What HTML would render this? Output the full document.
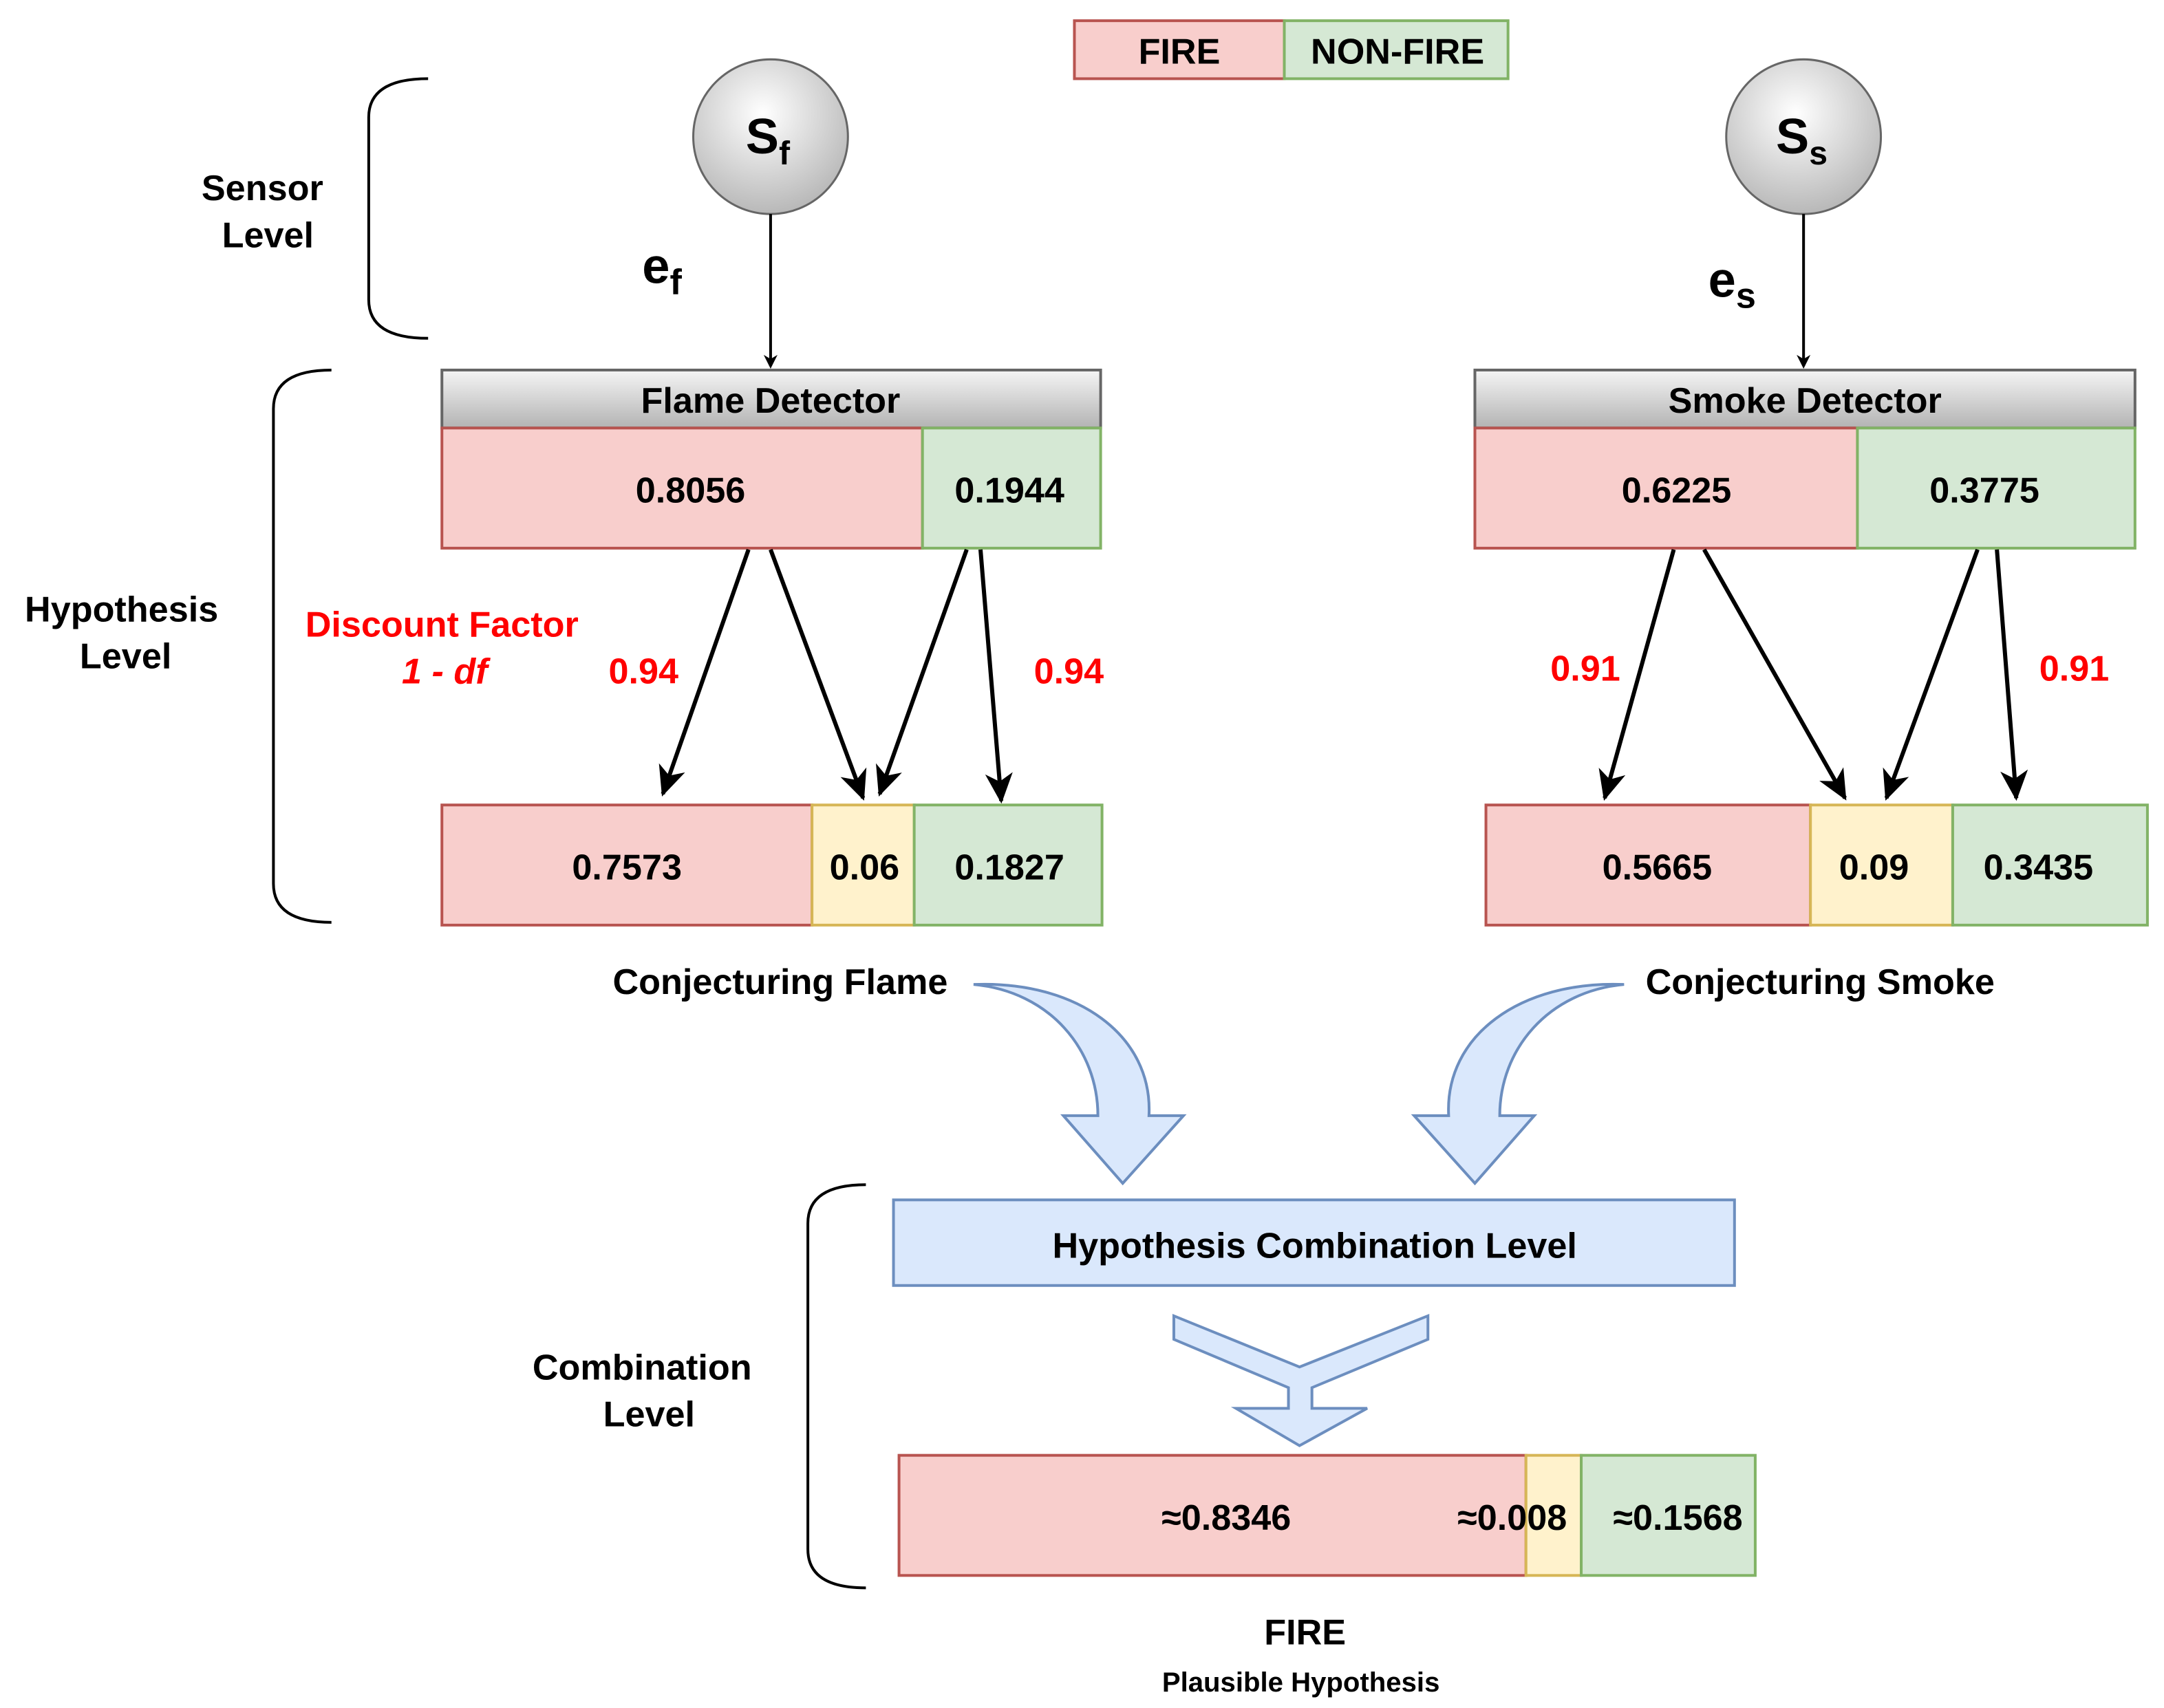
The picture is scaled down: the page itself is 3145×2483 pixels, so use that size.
<!DOCTYPE html>
<html><head><meta charset="utf-8"><style>
html,body{margin:0;padding:0;background:#fff;}
svg{display:block;}
text{font-family:"Liberation Sans",Arial,sans-serif;font-weight:bold;}
</style></head><body>
<svg width="3145" height="2483" viewBox="0 0 1567 1237" preserveAspectRatio="none" xmlns="http://www.w3.org/2000/svg">
<defs>
<radialGradient id="cg" cx="0.45" cy="0.35" r="0.7">
<stop offset="0" stop-color="#ffffff"/><stop offset="1" stop-color="#b3b3b3"/></radialGradient>
<linearGradient id="hg" x1="0" y1="0" x2="0" y2="1">
<stop offset="0" stop-color="#f5f5f5"/><stop offset="1" stop-color="#b3b3b3"/></linearGradient>
<marker id="ah" markerWidth="10" markerHeight="10" refX="8" refY="5" orient="auto" markerUnits="userSpaceOnUse" viewBox="0 0 10 10">
<path d="M0,0 L10,5 L0,10 L3,5 Z" fill="#000"/></marker>
<marker id="ah2" markerWidth="24" markerHeight="24" refX="20" refY="12" orient="auto" markerUnits="userSpaceOnUse" viewBox="0 0 24 24">
<path d="M0,2 L22,12 L0,22 L6,12 Z" fill="#000"/></marker>
</defs>

<rect x="778" y="15" width="152" height="42" fill="#f8cecc" stroke="#b85450" stroke-width="2"/>
<rect x="930" y="15" width="162" height="42" fill="#d5e8d4" stroke="#82b366" stroke-width="2"/>
<text x="854" y="46" font-size="26" text-anchor="middle">FIRE</text>
<text x="1012" y="46" font-size="26" text-anchor="middle">NON-FIRE</text>

<g fill="none" stroke="#000" stroke-width="2">
<path d="M310,57 Q267,57 267,85 L267,217 Q267,245 310,245"/>
<path d="M240,268 Q198,268 198,296 L198,640 Q198,668 240,668"/>
<path d="M627,858 Q585,858 585,886 L585,1122 Q585,1150 627,1150"/>
</g>
<text x="190" y="145" font-size="26" text-anchor="middle">Sensor</text>
<text x="194" y="179" font-size="26" text-anchor="middle">Level</text>
<text x="88" y="450" font-size="26" text-anchor="middle">Hypothesis</text>
<text x="91" y="484" font-size="26" text-anchor="middle">Level</text>
<text x="465" y="999" font-size="26" text-anchor="middle">Combination</text>
<text x="470" y="1033" font-size="26" text-anchor="middle">Level</text>

<circle cx="558" cy="99" r="56" fill="url(#cg)" stroke="#666" stroke-width="1.5"/>
<circle cx="1306" cy="99" r="56" fill="url(#cg)" stroke="#666" stroke-width="1.5"/>
<text x="540" y="111" font-size="36">S<tspan font-size="24" dy="8">f</tspan></text>
<text x="1286" y="111" font-size="36">S<tspan font-size="24" dy="8">s</tspan></text>
<line x1="558" y1="155" x2="558" y2="265" stroke="#000" stroke-width="2" marker-end="url(#ah)"/>
<line x1="1306" y1="155" x2="1306" y2="265" stroke="#000" stroke-width="2" marker-end="url(#ah)"/>
<text x="465" y="205" font-size="36">e<tspan font-size="26" dy="8">f</tspan></text>
<text x="1237" y="215" font-size="36">e<tspan font-size="26" dy="8">s</tspan></text>

<rect x="320" y="268" width="477" height="42" fill="url(#hg)" stroke="#666" stroke-width="2"/>
<text x="558" y="299" font-size="26" text-anchor="middle">Flame Detector</text>
<rect x="320" y="310" width="348" height="87" fill="#f8cecc" stroke="#b85450" stroke-width="2"/>
<rect x="668" y="310" width="129" height="87" fill="#d5e8d4" stroke="#82b366" stroke-width="2"/>
<text x="500" y="364" font-size="26" text-anchor="middle">0.8056</text>
<text x="731" y="364" font-size="26" text-anchor="middle">0.1944</text>

<rect x="1068" y="268" width="478" height="42" fill="url(#hg)" stroke="#666" stroke-width="2"/>
<text x="1307" y="299" font-size="26" text-anchor="middle">Smoke Detector</text>
<rect x="1068" y="310" width="277" height="87" fill="#f8cecc" stroke="#b85450" stroke-width="2"/>
<rect x="1345" y="310" width="201" height="87" fill="#d5e8d4" stroke="#82b366" stroke-width="2"/>
<text x="1214" y="364" font-size="26" text-anchor="middle">0.6225</text>
<text x="1437" y="364" font-size="26" text-anchor="middle">0.3775</text>

<g stroke="#000" stroke-width="3" marker-end="url(#ah2)">
<line x1="542" y1="398" x2="480" y2="575"/>
<line x1="558" y1="398" x2="625" y2="578"/>
<line x1="700" y1="398" x2="637" y2="575"/>
<line x1="710" y1="398" x2="725" y2="580"/>
<line x1="1212" y1="398" x2="1162" y2="578"/>
<line x1="1234" y1="398" x2="1336" y2="578"/>
<line x1="1432" y1="398" x2="1366" y2="578"/>
<line x1="1446" y1="398" x2="1460" y2="578"/>
</g>
<g fill="#ff0000" font-size="26">
<text x="320" y="461" text-anchor="middle">Discount Factor</text>
<text x="322" y="495" text-anchor="middle" font-style="italic">1 - df</text>
<text x="466" y="495" text-anchor="middle">0.94</text>
<text x="774" y="495" text-anchor="middle">0.94</text>
<text x="1148" y="493" text-anchor="middle">0.91</text>
<text x="1502" y="493" text-anchor="middle">0.91</text>
</g>

<rect x="320" y="583" width="268" height="87" fill="#f8cecc" stroke="#b85450" stroke-width="2"/>
<rect x="588" y="583" width="74" height="87" fill="#fff2cc" stroke="#d6b656" stroke-width="2"/>
<rect x="662" y="583" width="136" height="87" fill="#d5e8d4" stroke="#82b366" stroke-width="2"/>
<text x="454" y="637" font-size="26" text-anchor="middle">0.7573</text>
<text x="626" y="637" font-size="26" text-anchor="middle">0.06</text>
<text x="731" y="637" font-size="26" text-anchor="middle">0.1827</text>

<rect x="1076" y="583" width="235" height="87" fill="#f8cecc" stroke="#b85450" stroke-width="2"/>
<rect x="1311" y="583" width="103" height="87" fill="#fff2cc" stroke="#d6b656" stroke-width="2"/>
<rect x="1414" y="583" width="141" height="87" fill="#d5e8d4" stroke="#82b366" stroke-width="2"/>
<text x="1200" y="637" font-size="26" text-anchor="middle">0.5665</text>
<text x="1357" y="637" font-size="26" text-anchor="middle">0.09</text>
<text x="1476" y="637" font-size="26" text-anchor="middle">0.3435</text>

<text x="565" y="720" font-size="26" text-anchor="middle">Conjecturing Flame</text>
<text x="1318" y="720" font-size="26" text-anchor="middle">Conjecturing Smoke</text>

<path d="M705,713 C780,710 835,750 832,808 L857,808 L813,857 L770,808 L795,808 C795,760 760,718 705,713 Z" fill="#dae8fc" stroke="#6c8ebf" stroke-width="2"/>
<path d="M1176,713 C1101,710 1046,750 1049,808 L1024,808 L1068,857 L1111,808 L1086,808 C1086,760 1121,718 1176,713 Z" fill="#dae8fc" stroke="#6c8ebf" stroke-width="2"/>

<rect x="647" y="869" width="609" height="62" fill="#dae8fc" stroke="#6c8ebf" stroke-width="2"/>
<text x="952" y="911" font-size="26" text-anchor="middle">Hypothesis Combination Level</text>
<path d="M850,953 L941,990 L1034,953 L1034,970 L950,1005 L950,1020 L990,1020 L941,1047 L895,1020 L933,1020 L933,1005 L850,970 Z" fill="#dae8fc" stroke="#6c8ebf" stroke-width="2"/>

<rect x="651" y="1054" width="454" height="87" fill="#f8cecc" stroke="#b85450" stroke-width="2"/>
<rect x="1105" y="1054" width="40" height="87" fill="#fff2cc" stroke="#d6b656" stroke-width="2"/>
<rect x="1145" y="1054" width="126" height="87" fill="#d5e8d4" stroke="#82b366" stroke-width="2"/>
<text x="888" y="1108" font-size="26" text-anchor="middle">≈0.8346</text>
<text x="1095" y="1108" font-size="26" text-anchor="middle">≈0.008</text>
<text x="1215" y="1108" font-size="26" text-anchor="middle">≈0.1568</text>

<text x="945" y="1191" font-size="26" text-anchor="middle">FIRE</text>
<text x="942" y="1225" font-size="20" text-anchor="middle">Plausible Hypothesis</text>
</svg>
</body></html>
